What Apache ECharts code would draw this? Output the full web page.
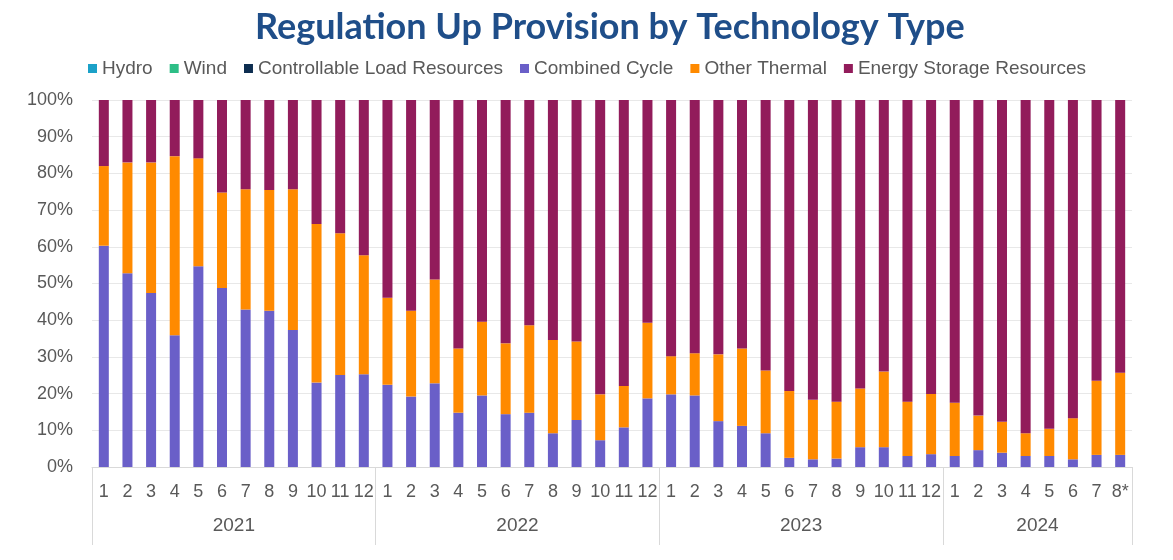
<!DOCTYPE html>
<html>
<head>
<meta charset="utf-8">
<script src="https://cdn.jsdelivr.net/npm/echarts@6/dist/echarts.min.js"></script>
<style>html,body{margin:0;padding:0;background:#fff}#c{width:1173px;height:560px}</style>
</head>
<body>
<div id="c"></div>
<script>
const months = ['1','2','3','4','5','6','7','8','9','10','11','12',
  '1','2','3','4','5','6','7','8','9','10','11','12',
  '1','2','3','4','5','6','7','8','9','10','11','12',
  '1','2','3','4','5','6','7','8*'];
const years = ['2021','2022','2023','2024'];
const yearStarts = [0, 12, 24, 36, 44];
const yearCenters = [6, 18, 30, 40];

const hydro = new Array(44).fill(0);
const wind = new Array(44).fill(0);
const clr = new Array(44).fill(0);
const combinedCycle = [
  60.3,52.8,47.4,35.9,54.7,48.8,42.9,42.6,37.3,23.0,25.1,25.3,
  22.4,19.2,22.8,14.8,19.5,14.4,14.8,9.2,12.8,7.3,10.8,18.7,
  19.8,19.5,12.5,11.2,9.2,2.5,2.1,2.3,5.4,5.4,3.0,3.5,
  3.0,4.6,3.9,3.0,3.0,2.1,3.3,3.3];
const otherThermal = [
  21.7,30.2,35.6,48.8,29.4,26.0,32.8,32.9,38.4,43.2,38.6,32.4,
  23.7,23.4,28.3,17.5,20.1,19.3,23.8,25.4,21.4,12.5,11.3,20.6,
  10.4,11.5,18.2,21.1,17.1,18.2,16.2,15.5,16.0,20.6,14.8,16.4,
  14.5,9.4,8.4,6.2,7.4,11.2,20.2,22.4];
const energyStorage = [
  18.0,17.0,17.0,15.3,15.9,25.2,24.3,24.5,24.3,33.8,36.3,42.3,
  53.9,57.4,48.9,67.7,60.4,66.3,61.4,65.4,65.8,80.2,77.9,60.7,
  69.8,69.0,69.3,67.7,73.7,79.3,81.7,82.2,78.6,74.0,82.2,80.1,
  82.5,86.0,87.7,90.8,89.6,86.7,76.5,74.3];

const seriesDefs = [
  ['Hydro', hydro, '#1ba1c8'],
  ['Wind', wind, '#2dbe86'],
  ['Controllable Load Resources', clr, '#0d2d50'],
  ['Combined Cycle', combinedCycle, '#6a5fc8'],
  ['Other Thermal', otherThermal, '#ff8a00'],
  ['Energy Storage Resources', energyStorage, '#921c5b']
];

const chart = echarts.init(document.getElementById('c'), null, {renderer:'canvas'});
const gray = '#595959';
chart.setOption({
  animation: false,
  title: {
    text: 'Regulation Up Provision by Technology Type',
    left: 250, top: 4,
    textStyle: {fontFamily: 'Lato', fontWeight: 'bold', fontSize: 36, color: '#1f4e89'}
  },
  legend: {
    top: 54, left: 83,
    itemWidth: 9, itemHeight: 9, itemGap: 17,
    icon: 'rect',
    textStyle: {fontFamily: 'Liberation Sans', fontSize: 19, color: gray},
    data: seriesDefs.map(d => d[0])
  },
  grid: {left: 92, right: 41, top: 100, bottom: 93, containLabel: false},
  xAxis: [{
    type: 'category', data: months,
    axisLine: {lineStyle: {color: '#d9d9d9'}},
    axisTick: {show: false},
    axisLabel: {interval: 0, margin: 16, color: gray, fontSize: 18, fontFamily: 'Liberation Sans'}
  }, {
    type: 'value', min: 0, max: 44, position: 'bottom',
    axisLine: {show: false},
    splitLine: {show: false},
    axisTick: {show: true, customValues: yearStarts, length: 78, lineStyle: {color: '#d9d9d9'}},
    axisLabel: {customValues: yearCenters, margin: 49, color: gray, fontSize: 19,
      fontFamily: 'Liberation Sans',
      formatter: v => years[yearCenters.indexOf(v)] || ''}
  }],
  yAxis: {
    type: 'value', min: 0, max: 100, interval: 10,
    axisLabel: {formatter: '{value}%', color: gray, fontSize: 18, margin: 19, fontFamily: 'Liberation Sans'},
    splitLine: {lineStyle: {color: '#e8e8e8'}},
    axisLine: {show: false}, axisTick: {show: false}
  },
  series: seriesDefs.map(d => ({
    name: d[0], type: 'bar', stack: 'total', data: d[1], barWidth: 10,
    itemStyle: {color: d[2]}, xAxisIndex: 0
  }))
});
</script>
</body>
</html>
